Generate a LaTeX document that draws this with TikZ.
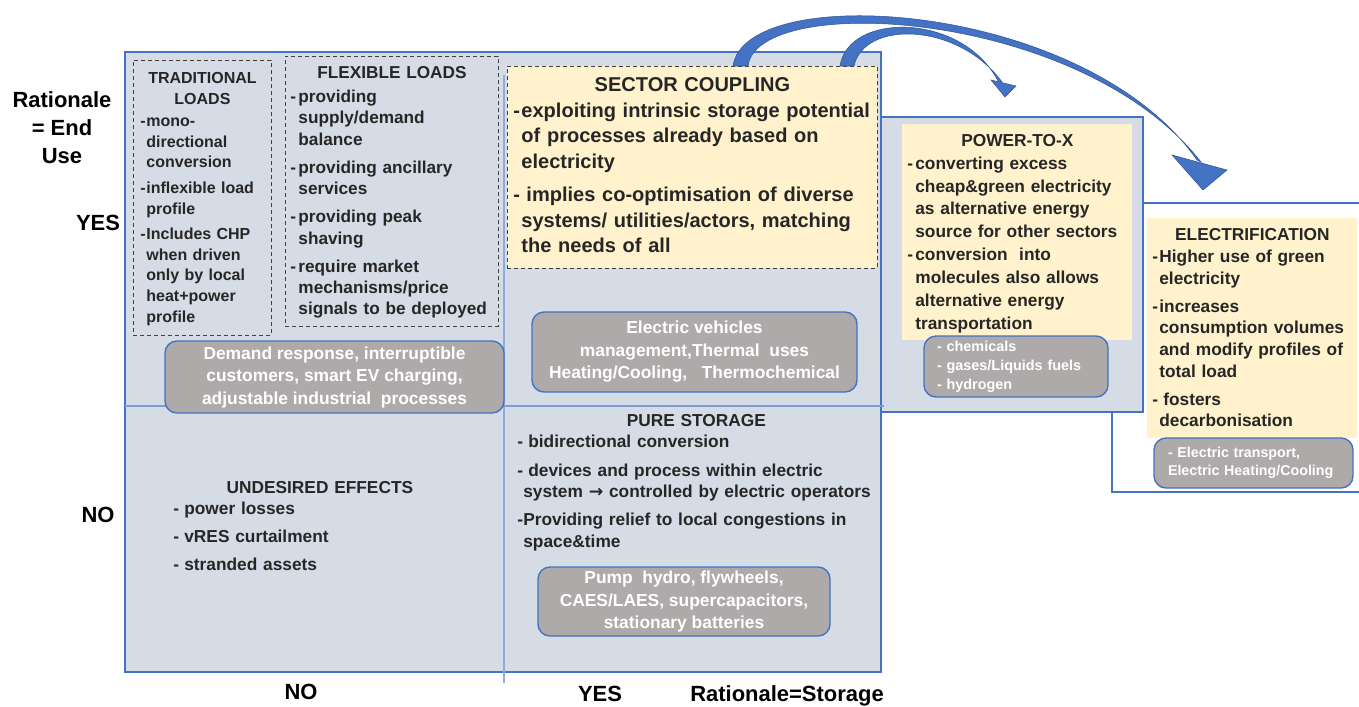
\documentclass[tikz,border=0pt]{standalone}
\usepackage{fontspec}
\setmainfont{Liberation Sans}
\newfontfamily\symfont{DejaVu Sans}
\usetikzlibrary{calc}

\definecolor{quad}{HTML}{D6DCE5}
\definecolor{frame}{HTML}{4472C4}
\definecolor{divline}{HTML}{8FAADC}
\definecolor{note}{HTML}{FFF2CC}
\definecolor{grey}{HTML}{AEAAAA}
\definecolor{ink}{HTML}{262626}
\definecolor{arrowblue}{HTML}{4472C4}
\definecolor{arrowdark}{HTML}{2F5597}

% list item with hanging dash, \nl breaks inside the item
\newcommand\li[1]{\par\hangindent=#1\hangafter=1\noindent\makebox[#1][l]{-}}
\newcommand\nl{\newline}
\newcommand\fs[2]{\fontsize{#1}{#2}\selectfont\bfseries}

\begin{document}
\begin{tikzpicture}[x=0.2mm,y=-0.2mm,
    every node/.style={text=ink},
    dashbox/.style={draw=black!75, dash pattern=on 0.8mm off 0.6mm, line width=0.5pt, anchor=north west, inner ysep=0pt},
    notebox/.style={fill=note, anchor=north west, inner ysep=0pt},
    greybox/.style={fill=grey, draw=frame, line width=0.8pt, rounded corners=2.4mm, text=white, align=center, inner sep=0pt},
    axislabel/.style={font=\fs{12.5}{16}, text=black}]
  \useasboundingbox (0,0) rectangle (1359,706);
  % frames and quadrants
  \draw[frame, line width=1pt] (1375,203) -- (1112,203) -- (1112,492) -- (1375,492);
  \draw[frame, fill=quad, line width=1pt] (125,52) rectangle (881,672);
  \draw[frame, fill=quad, line width=1pt] (881,117) rectangle (1143,412);
  \draw[divline, line width=0.35mm] (504,75) -- (504,683);
  \draw[frame!70, line width=0.25mm] (125,406) -- (884,406);

  % axis labels
  \node[axislabel, align=center, anchor=north] (enduse) at (62,85) {Rationale\\= End\\Use};
  \node[axislabel] (yes) at (98,223) {YES};
  \node[axislabel] (no) at (98,515) {NO};
  \node[axislabel, anchor=base] (xno) at (301,699) {NO};
  \node[axislabel, anchor=base] (xyes) at (600,701) {YES};
  \node[axislabel, anchor=base] (storage) at (787,701) {Rationale=Storage};

  % end use boxes
  \node[dashbox, text width=24.8mm, inner xsep=1.4mm, text height=4.6mm, text depth=50.4mm, font=\fs{9.1}{11.8}] (trad) at (133,60)
    {\setlength{\parskip}{2.6pt}\centering TRADITIONAL\\LOADS\par\raggedright\vspace{-1.7pt}
     \li{1.2mm}mono-\nl directional\nl conversion
     \li{1.2mm}inflexible load\nl profile
     \li{1.2mm}Includes CHP\nl when driven\nl only by local\nl heat+power\nl profile\par};
  \node[dashbox, text width=40.6mm, inner xsep=1mm, text height=4.4mm, text depth=49.6mm, font=\fs{9.8}{12.2}] (flex) at (285,56)
    {\setlength{\parskip}{3.7pt}\centering FLEXIBLE LOADS\par\raggedright\vspace{-2.2pt}
     \li{1.6mm}providing\nl supply/demand\nl balance
     \li{1.6mm}providing ancillary\nl services
     \li{1.6mm}providing peak\nl shaving
     \li{1.6mm}require market\nl mechanisms/price\nl signals to be deployed\par};
  \node[notebox, draw=black!75, dash pattern=on 0.8mm off 0.6mm, line width=0.5pt, text width=71.6mm, inner xsep=1.2mm, text height=5mm, text depth=35.4mm, font=\fs{11.4}{14.4}] (sc) at (507,66)
    {\setlength{\parskip}{4.9pt}\centering SECTOR COUPLING\par\raggedright\vspace{-4.5pt}
     \li{1.6mm}exploiting intrinsic storage potential\nl of processes already based on\nl electricity
     \li{1.6mm}\hspace{1mm}implies co-optimisation of diverse\nl systems/ utilities/actors, matching\nl the needs of all\par};
  \node[notebox, text width=44mm, inner xsep=1mm, text height=4.4mm, text depth=38.8mm, font=\fs{9.85}{13}] (ptx) at (902,124)
    {\centering POWER-TO-X\par\raggedright
     \li{1.6mm}converting excess\nl cheap\&green electricity\nl as alternative energy\nl source for other sectors
     \li{1.6mm}conversion\ \ into\nl molecules also allows\nl alternative energy\nl transportation\par};
  \node[notebox, text width=40mm, inner xsep=1mm, text height=4.4mm, text depth=39.6mm, font=\fs{9.85}{12.35}] (elec) at (1147,218)
    {\setlength{\parskip}{3.6pt}\centering ELECTRIFICATION\par\raggedright\vspace{-3.4pt}
     \li{1.4mm}Higher use of green\nl electricity
     \li{1.4mm}increases\nl consumption volumes\nl and modify profiles of\nl total load
     \li{1.4mm}\hspace{0.8mm}fosters\nl decarbonisation\par};

  % storage side
  \node[anchor=base west, inner sep=0pt, text width=58.6mm, font=\fs{9.85}{12.5}] (undesired) at (173,493)
    {\setlength{\parskip}{3.4pt}\centering UNDESIRED EFFECTS\par\raggedright\vspace{-3.4pt}
     \li{2.2mm}power losses
     \li{2.2mm}vRES curtailment
     \li{2.2mm}stranded assets\par};
  \node[anchor=base west, inner sep=0pt, text width=71.6mm, font=\fs{9.85}{12.2}] (pure) at (517,426)
    {\setlength{\parskip}{3.8pt}\centering PURE STORAGE\par\raggedright\vspace{-3.5pt}
     \li{1.2mm}\hspace{1mm}bidirectional conversion
     \li{1.2mm}\hspace{1mm}devices and process within electric\nl system {\symfont\bfseries →} controlled by electric operators
     \li{1.2mm}Providing relief to local congestions in\nl space\&time\par};

  % examples
  \node[greybox, minimum width=67.8mm, minimum height=14.4mm, font=\fs{9.9}{12.8}] (dr) at (334.5,377)
    {Demand response, interruptible\\customers, smart EV charging,\\adjustable industrial\ \ processes};
  \node[greybox, minimum width=65mm, minimum height=16mm, font=\fs{9.9}{12.8}] (ev) at (694.5,352)
    {Electric vehicles\\management,Thermal\ \ uses\\Heating/Cooling,\ \ \ Thermochemical};
  \node[greybox, minimum width=58.4mm, minimum height=13.8mm, font=\fs{9.9}{12.8}] (pump) at (684,601.5)
    {Pump\ \ hydro, flywheels,\\CAES/LAES, supercapacitors,\\stationary batteries};
  \node[greybox, align=left, text width=31.6mm, inner xsep=2.6mm, minimum height=12.2mm, font=\fs{8.2}{10.8}] (chem) at (1016,366.5)
    {- chemicals\\- gases/Liquids fuels\\- hydrogen};
  \node[greybox, align=left, text width=34.2mm, inner xsep=2.8mm, minimum height=10mm, font=\fs{8.1}{10.5}] (transp) at (1253.5,463)
    {- Electric transport,\\Electric Heating/Cooling};

  % curved arrows out of sector coupling
  \coordinate (bigtip) at (1203,190);
  \coordinate (smalltip) at (1005,97);
  \filldraw[fill=arrowblue, draw=arrowdark, line width=0.3pt]
    ($(sc.north west)+(226,0)$) .. controls (745,-20) and (1085,0) .. (1197,160)
    -- (1201,162) .. controls (1080,8) and (757,-8) .. ($(sc.north west)+(241,0)$) -- cycle;
  \filldraw[fill=arrowblue, draw=arrowdark, line width=0.3pt] (1172,155) -- (bigtip) -- (1227,170) -- cycle;
  \filldraw[fill=arrowblue, draw=arrowdark, line width=0.3pt]
    ($(sc.north west)+(333,0)$) .. controls (848,12) and (962,12) .. (998,81)
    -- (1002,82) .. controls (958,22) and (864,20) .. ($(sc.north west)+(347,0)$) -- cycle;
  \filldraw[fill=arrowblue, draw=arrowdark, line width=0.3pt] (991,80) -- (smalltip) -- (1016,86) -- cycle;
\end{tikzpicture}
\end{document}
